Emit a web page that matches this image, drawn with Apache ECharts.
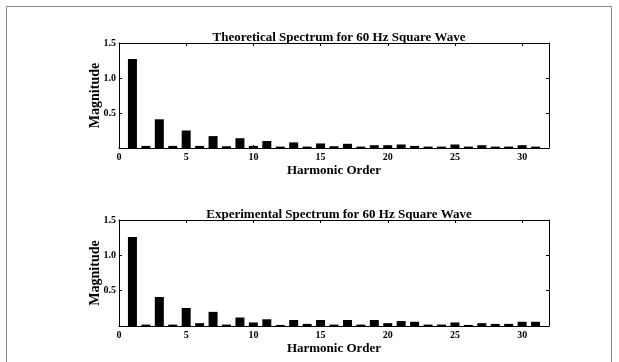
<!DOCTYPE html>
<html>
<head>
<meta charset="utf-8">
<script src="https://cdn.jsdelivr.net/npm/echarts@6/dist/echarts.min.js"></script>
<style>html,body{margin:0;padding:0;background:#fff}#c{width:619px;height:362px}</style>
</head>
<body>
<div id="c"></div>
<script>
var harmonics = [1,2,3,4,5,6,7,8,9,10,11,12,13,14,15,16,17,18,19,20,21,22,23,24,25,26,27,28,29,30,31];
var theoretical = [1.27,0.03,0.41,0.03,0.25,0.03,0.17,0.025,0.14,0.03,0.10,0.02,0.08,0.02,0.065,0.025,0.06,0.02,0.04,0.04,0.05,0.03,0.02,0.02,0.05,0.02,0.04,0.02,0.02,0.04,0.02];
var experimental = [1.26,0.02,0.41,0.02,0.255,0.04,0.20,0.02,0.12,0.05,0.095,0.015,0.085,0.03,0.085,0.02,0.085,0.02,0.085,0.04,0.07,0.06,0.02,0.02,0.05,0.015,0.04,0.03,0.03,0.06,0.06];
var xTicks = [0,5,10,15,20,25,30];
var titles = ['Theoretical Spectrum for 60 Hz Square Wave','Experimental Spectrum for 60 Hz Square Wave'];

var serif = 'Liberation Serif';
var chart = echarts.init(document.getElementById('c'), null, {renderer:'canvas'});
var grids = [{left:119, top:43, width:430, height:105}, {left:119, top:220, width:430, height:106}];
var xAxes = [], yAxes = [], series = [];
[theoretical, experimental].forEach(function(data, i){
  xAxes.push({gridIndex:i, type:'value', min:0, max:32, position:'bottom',
    name:'Harmonic Order', nameLocation:'middle', nameGap:i===0?16.5:16, nameMoveOverlap:false,
    nameTextStyle:{fontFamily:serif, fontWeight:'bold', fontSize:13, color:'#000'},
    axisLine:{show:true, onZero:false, lineStyle:{color:'#000', width:1}},
    axisTick:{show:true, inside:true, length:3, customValues:xTicks, lineStyle:{color:'#000'}},
    axisLabel:{fontFamily:serif, fontWeight:'bold', fontSize:10, color:'#000', margin:4, customValues:xTicks},
    splitLine:{show:false}});
  xAxes.push({gridIndex:i, type:'value', min:0, max:32, position:'top',
    axisLine:{show:true, onZero:false, lineStyle:{color:'#000', width:1}},
    axisTick:{show:true, inside:true, length:3, customValues:xTicks, lineStyle:{color:'#000'}},
    axisLabel:{show:false}, splitLine:{show:false}});
  yAxes.push({gridIndex:i, type:'value', min:0, max:1.5, interval:0.5, position:'left',
    name:'Magnitude', nameLocation:'middle', nameGap:17, nameMoveOverlap:false,
    nameTextStyle:{fontFamily:serif, fontWeight:'bold', fontSize:14, color:'#000'},
    axisLine:{show:true, onZero:false, lineStyle:{color:'#000', width:1}},
    axisTick:{show:true, inside:true, length:3, lineStyle:{color:'#000'}},
    axisLabel:{fontFamily:serif, fontWeight:'bold', fontSize:10, color:'#000', margin:3,
      formatter:function(v){return v===0?'':v.toFixed(1);}},
    splitLine:{show:false}});
  yAxes.push({gridIndex:i, type:'value', min:0, max:1.5, interval:0.5, position:'right',
    axisLine:{show:true, onZero:false, lineStyle:{color:'#000', width:1}},
    axisTick:{show:true, inside:true, length:3, lineStyle:{color:'#000'}},
    axisLabel:{show:false}, splitLine:{show:false}});
  series.push({type:'bar', xAxisIndex:i*2, yAxisIndex:i*2, barWidth:9,
    itemStyle:{color:'#000'},
    data:harmonics.map(function(h,k){return [h, data[k]];})});
});
chart.setOption({
  animation:false,
  backgroundColor:'#fff',
  title:[
    {text:titles[0], left:334, top:26, textAlign:'center', textStyle:{fontFamily:serif, fontWeight:'bold', fontSize:13, color:'#000'}},
    {text:titles[1], left:334, top:203, textAlign:'center', textStyle:{fontFamily:serif, fontWeight:'bold', fontSize:13, color:'#000'}}
  ],
  grid:grids,
  xAxis:xAxes,
  yAxis:yAxes,
  series:series,
  graphic:[{type:'rect', shape:{x:6.5, y:6.5, width:605, height:362}, style:{fill:null, stroke:'#888', lineWidth:1}, silent:true}]
});
</script>
</body>
</html>
